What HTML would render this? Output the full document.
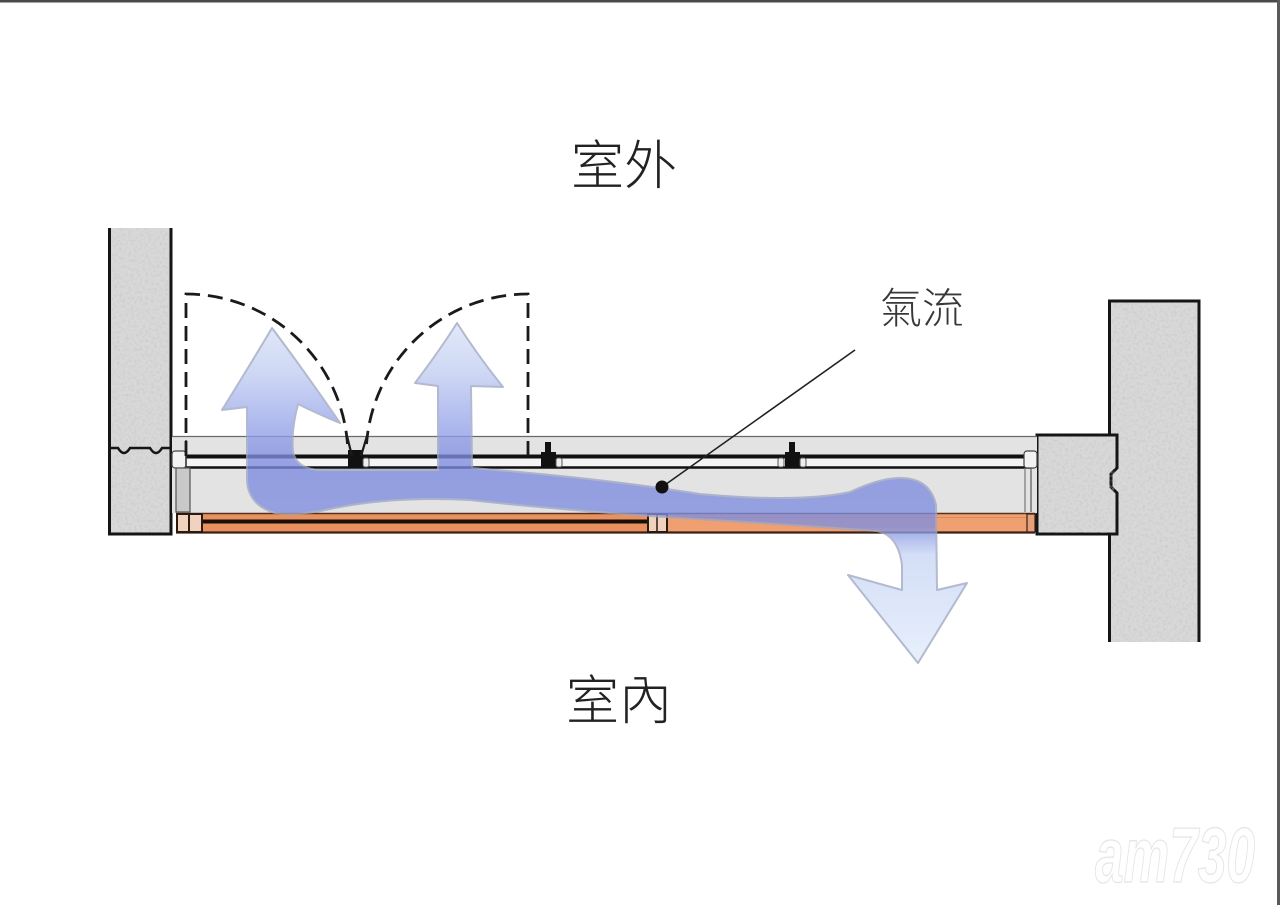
<!DOCTYPE html>
<html>
<head>
<meta charset="utf-8">
<style>
html,body{margin:0;padding:0;background:#fff;}
body{width:1280px;height:905px;overflow:hidden;}
svg{display:block;}
.cjk{font-family:"Liberation Sans","Noto Sans CJK TC","Noto Sans CJK SC",sans-serif;font-weight:300;}
</style>
</head>
<body>
<svg width="1280" height="905" viewBox="0 0 1280 905" xmlns="http://www.w3.org/2000/svg">
  <defs>
    <linearGradient id="flow" gradientUnits="userSpaceOnUse" x1="0" y1="320" x2="0" y2="665">
      <stop offset="0" stop-color="#dbe5f8"/>
      <stop offset="0.15" stop-color="#c2cef2"/>
      <stop offset="0.30" stop-color="#98a6ea"/>
      <stop offset="0.42" stop-color="#7c8ae0"/>
      <stop offset="0.60" stop-color="#8090e0"/>
      <stop offset="0.68" stop-color="#c8d6f5"/>
      <stop offset="1" stop-color="#e2ecfb"/>
    </linearGradient>
    <filter id="speckle" x="0" y="0" width="100%" height="100%">
      <feTurbulence type="fractalNoise" baseFrequency="0.35" numOctaves="2" seed="3" result="n"/>
      <feColorMatrix type="matrix" in="n"
        values="0 0 0 0 0.55
                0 0 0 0 0.55
                0 0 0 0 0.55
                0 0 0 -2.2 1.25" result="s"/>
      <feComposite in="s" in2="SourceGraphic" operator="in"/>
    </filter>
  </defs>

  <rect x="0" y="0" width="1280" height="905" fill="#ffffff"/>
  <!-- frame borders -->
  <rect x="0" y="0" width="1280" height="2.5" fill="#4a4a4a"/>
  <rect x="1277" y="0" width="3" height="905" fill="#5a5a5a"/>

  <!-- Left wall -->
  <rect x="108" y="228" width="64" height="307" fill="#d8d8d8"/>
  <rect x="108" y="228" width="64" height="307" fill="#d8d8d8" filter="url(#speckle)" opacity="0.6"/>
  <path d="M109.5,228 V534 H171 V228" fill="none" stroke="#151515" stroke-width="3"/>
  <path d="M108,448 L118,448 Q124,458 130,448 L150,448 Q156,458 162,448 L172,448" fill="none" stroke="#151515" stroke-width="2.5"/>

  <!-- Right wall -->
  <rect x="1108" y="300" width="92" height="342" fill="#d8d8d8"/>
  <rect x="1108" y="300" width="92" height="342" fill="#d8d8d8" filter="url(#speckle)" opacity="0.6"/>
  <path d="M1109.5,642 V301 H1199 V642" fill="none" stroke="#151515" stroke-width="3"/>
  <path d="M1037,435 H1117 V468 L1111,474 V487 L1117,493 V534 H1037 Z" fill="#d8d8d8" stroke="#151515" stroke-width="3"/>
  <rect x="1039" y="437" width="76" height="96" fill="#d8d8d8" filter="url(#speckle)" opacity="0.6"/>

  <!-- Window assembly background -->
  <rect x="172" y="436" width="865" height="77" fill="#e3e3e3"/>
  <line x1="172" y1="436.5" x2="1037" y2="436.5" stroke="#6a6a6a" stroke-width="1.3"/>
  <rect x="178" y="458" width="852" height="9" fill="#f4f4f4"/>
  <line x1="178" y1="456.5" x2="1030" y2="456.5" stroke="#111" stroke-width="4"/>
  <line x1="178" y1="467.5" x2="1030" y2="467.5" stroke="#111" stroke-width="2.6"/>

  <!-- left fittings -->
  <rect x="172" y="451" width="14" height="17" rx="3" fill="#f2f2f2" stroke="#444" stroke-width="1.2"/>
  <line x1="186" y1="440" x2="186" y2="470" stroke="#333" stroke-width="1.5"/>
  <rect x="176" y="468" width="14" height="44" fill="#c9c9c9" stroke="#555" stroke-width="1.2"/>
  <!-- right fittings -->
  <rect x="1024" y="451" width="13" height="17" rx="3" fill="#f2f2f2" stroke="#444" stroke-width="1.2"/>
  <line x1="1025" y1="468" x2="1025" y2="512" stroke="#777" stroke-width="1.2"/>
  <line x1="1031" y1="468" x2="1031" y2="512" stroke="#555" stroke-width="1.2"/>

  <!-- fixtures -->
  <rect x="348" y="450" width="15" height="18" fill="#111"/>
  <rect x="545" y="442" width="6" height="14" fill="#111"/>
  <rect x="541" y="452" width="15" height="16" fill="#111"/>
  <rect x="789" y="442" width="6" height="14" fill="#111"/>
  <rect x="785" y="452" width="15" height="16" fill="#111"/>
  <rect x="556" y="458" width="6" height="9" rx="2" fill="#eee" stroke="#555" stroke-width="1"/>
  <rect x="778" y="458" width="6" height="9" rx="2" fill="#eee" stroke="#555" stroke-width="1"/>
  <rect x="800" y="458" width="6" height="9" rx="2" fill="#eee" stroke="#555" stroke-width="1"/>
  <rect x="363" y="458" width="6" height="9" rx="2" fill="#eee" stroke="#555" stroke-width="1"/>

  <!-- Orange panel -->
  <rect x="176" y="513" width="480" height="20" fill="#e8915f"/>
  <rect x="656" y="513" width="379" height="20" fill="#f09f70"/>
  <line x1="176" y1="513.5" x2="1035" y2="513.5" stroke="#5a3020" stroke-width="1.5"/>
  <line x1="176" y1="532.5" x2="1035" y2="532.5" stroke="#3a2015" stroke-width="2.2"/>
  <line x1="200" y1="521.5" x2="650" y2="521.5" stroke="#1a0e08" stroke-width="4"/>
  <line x1="656" y1="517.5" x2="1030" y2="517.5" stroke="#d88a60" stroke-width="1"/>
  <rect x="177" y="514" width="25" height="18" fill="#f0d2bf" stroke="#2a1a10" stroke-width="2"/>
  <line x1="189" y1="514" x2="189" y2="532" stroke="#2a1a10" stroke-width="2"/>
  <rect x="648" y="514" width="19" height="18" fill="#f0d2bf" stroke="#2a1a10" stroke-width="2"/>
  <line x1="657" y1="514" x2="657" y2="532" stroke="#2a1a10" stroke-width="1.5"/>
  <rect x="1027" y="514" width="8" height="18" fill="#e6a07a" stroke="#3a2015" stroke-width="1.2"/>

  <!-- Dashed door swings -->
  <path d="M186,456 V294 A162,162 0 0 1 347.5,444" fill="none" stroke="#1a1a1a" stroke-width="2.8" stroke-dasharray="15 8"/>
  <path d="M528,456 V294 A162,162 0 0 0 366.5,444" fill="none" stroke="#1a1a1a" stroke-width="2.8" stroke-dasharray="15 8"/>
  <path d="M347,436 L352,456 M367,436 L361,456" fill="none" stroke="#1a1a1a" stroke-width="2.2"/>

  <!-- Airflow -->
  <g opacity="0.78">
    <path d="M272,328
             Q305,372 340,423
             Q318,414 298,404
             Q291,430 293,452
             Q297,470 322,470
             L438,470
             L438,386
             L415,383
             Q440,350 457,323
             Q478,356 503,387
             L471,386
             L472,468
             Q600,478 700,494
             Q800,503 850,492
             Q880,478 900,478
             Q930,478 936,505
             L937,590
             L967,583
             L918,663
             L848,575
             L902,590
             L902,565
             Q898,535 877,531
             Q780,524 680,518
             Q560,510 470,500
             Q390,496 330,509
             Q300,516 275,513
             Q248,505 247,480
             L247,407
             L222,410
             Q250,365 272,328 Z"
          fill="url(#flow)" stroke="#9ea6c2" stroke-width="2" stroke-linejoin="round"/>
  </g>

  <!-- Leader line -->
  <line x1="855" y1="350" x2="662" y2="487" stroke="#222" stroke-width="1.6"/>
  <circle cx="662" cy="487" r="6.5" fill="#111"/>

  <!-- Labels -->
  <text x="571" y="184" font-size="53" fill="#222" class="cjk">室外</text>
  <text x="880" y="323" font-size="42" fill="#383838" class="cjk">氣流</text>
  <text x="566" y="719" font-size="53" fill="#222" class="cjk">室內</text>

  <!-- watermark -->
  <text x="1095" y="882" font-size="78" font-weight="bold" font-style="italic" fill="#ffffff" stroke="#e4e4e4" stroke-width="1.2" textLength="160" lengthAdjust="spacingAndGlyphs" font-family="Liberation Sans, sans-serif">am730</text>
</svg>
</body>
</html>
